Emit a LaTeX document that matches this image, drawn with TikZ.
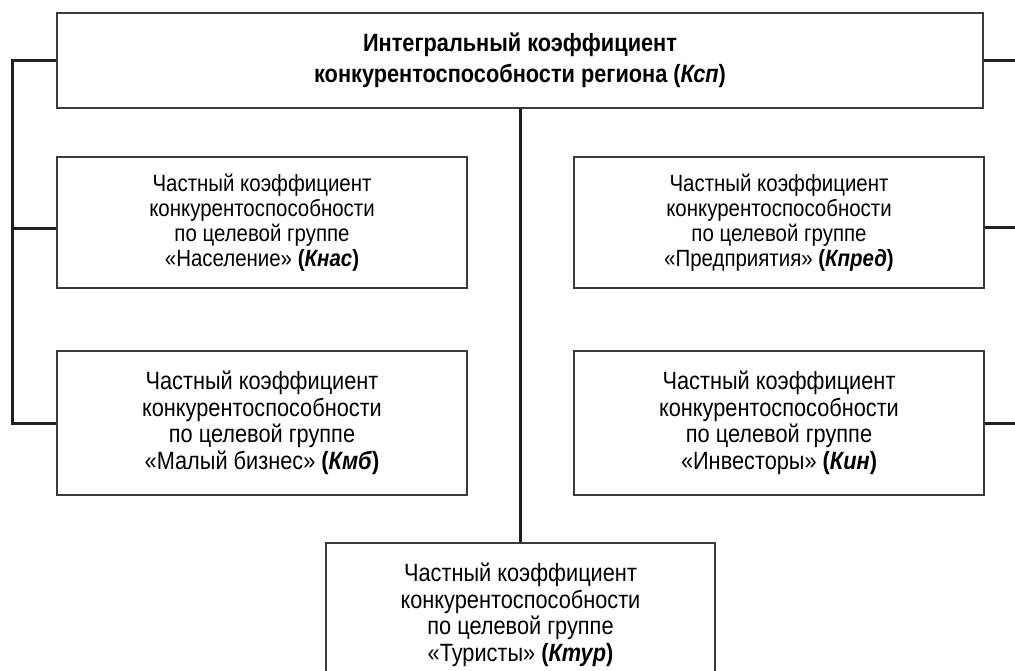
\documentclass[tikz,border=0pt]{standalone}
\usepackage{fontspec}
\setmainfont{Liberation Sans}[FakeStretch=0.87]
\definecolor{ink}{HTML}{231F20}
\definecolor{frame}{HTML}{3C3A3B}
\tikzset{
  mainbox/.style={draw=frame,line width=2pt,fill=white,align=center,inner sep=0pt,
    minimum width=926pt,minimum height=95pt,font=\fontsize{25}{31}\selectfont\bfseries},
  partbox/.style={draw=frame,line width=2pt,fill=white,align=center,inner sep=0pt,
    minimum width=410pt,minimum height=131pt,font=\fontsize{23.5}{25}\selectfont},
  bigbox/.style={partbox,minimum height=144pt,font=\fontsize{25}{26.5}\selectfont},
  link/.style={draw=ink,line width=3pt}
}
\begin{document}
\begin{tikzpicture}[x=1pt,y=-1pt]
  \fill[white] (0,0) rectangle (1015,670);
  \clip (0,0) rectangle (1015,670);
  \coordinate (lbar) at (12,0);
  \coordinate (rbar) at (1028,0);
  \node[mainbox] (ksp) at (520,60.5) {Интегральный коэффициент\\конкурентоспособности региона (\textit{Ксп})};
  \node[partbox] (knas) at (262,222.5) {Частный коэффициент\\конкурентоспособности\\по целевой группе\\«Население» \textbf{(\textit{Кнас})}};
  \node[partbox] (kpred) at (779,222.5) {Частный коэффициент\\конкурентоспособности\\по целевой группе\\«Предприятия» \textbf{(\textit{Кпред})}};
  \node[bigbox] (kmb) at (262,423) {Частный коэффициент\\конкурентоспособности\\по целевой группе\\«Малый бизнес» \textbf{(\textit{Кмб})}};
  \node[bigbox] (kin) at (779,423) {Частный коэффициент\\конкурентоспособности\\по целевой группе\\«Инвесторы» \textbf{(\textit{Кин})}};
  \node[bigbox,minimum width=389pt] (ktur) at (520.5,615) {Частный коэффициент\\конкурентоспособности\\по целевой группе\\«Туристы» \textbf{(\textit{Ктур})}};
  % left bracket
  \draw[link] (ksp.west) -| (lbar |- kmb.west) -- (kmb.west);
  \draw[link] ([yshift=-6pt]knas.west) -- ([yshift=-6pt]knas.west -| lbar);
  % right bracket
  \draw[link] (ksp.east) -| (rbar |- kin.east) -- (kin.east);
  \draw[link] ([yshift=-5pt]kpred.east) -- ([yshift=-5pt]kpred.east -| rbar);
  % centre
  \draw[link] (ktur.north) -- (ktur.north |- ksp.south);
\end{tikzpicture}
\end{document}
